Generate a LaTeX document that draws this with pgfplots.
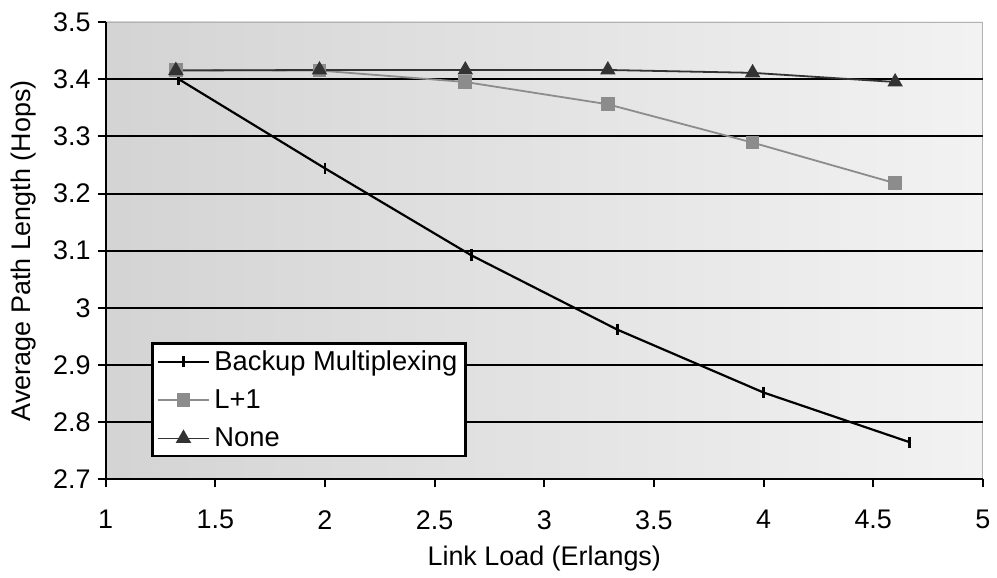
\documentclass[border=0pt]{standalone}
\usepackage{fontspec}
\setmainfont{Liberation Sans}
\usepackage{pgfplots}
\pgfplotsset{compat=1.18}

\definecolor{lplusone}{HTML}{8C8C8C}
\definecolor{nonecol}{HTML}{333333}

\pgfplotstableread{
x      y
1.333  3.400
2.000  3.244
2.667  3.092
3.333  2.962
4.000  2.852
4.667  2.765
}\backupdata

\pgfplotstableread{
x      y
1.320  3.416
1.975  3.415
2.640  3.395
3.290  3.356
3.950  3.289
4.600  3.218
}\lplusdata

\pgfplotstableread{
x      y
1.320  3.415
1.975  3.416
2.640  3.416
3.290  3.416
3.950  3.411
4.600  3.395
}\nonedata

\begin{document}
\begin{tikzpicture}
\begin{axis}[
  scale only axis,
  width=440pt, height=229.5pt,
  xmin=1, xmax=5, ymin=2.7, ymax=3.5,
  xtick={1,1.5,...,5},
  ytick={2.7,2.8,...,3.5},
  extra y ticks={2.8,2.9,3.0,3.1,3.2,3.3,3.4},
  extra y tick labels={},
  extra y tick style={grid=major, major tick length=0pt},
  grid style={black, line width=1pt},
  axis x line*=bottom, axis y line*=left,
  axis line style={black, line width=1pt, -},
  axis background/.style={left color=black!17, right color=black!5, draw=black!30},
  tick align=outside,
  major tick length=4pt,
  tick style={black, line width=1pt},
  /pgf/number format/assume math mode=true,
  ticklabel style={font=\fontsize{13.5}{16}\selectfont},
  xticklabel style={yshift=-8pt},
  xlabel={Link Load (Erlangs)},
  ylabel={Average Path Length (Hops)},
  every axis x label/.style={at={(axis description cs:0.5,-0.172)}, anchor=center,
    font=\fontsize{13.5}{16}\selectfont},
  every axis y label/.style={at={(axis description cs:-0.094,0.5)}, anchor=center, rotate=90,
    font=\fontsize{13.5}{16}\selectfont},
  legend cell align=left,
  legend style={at={(rel axis cs:0.052,0.048)}, anchor=south west,
    draw=black, line width=1.2pt, fill=white,
    font=\fontsize{13.7}{16}\selectfont,
    row sep=4.2pt, inner xsep=2pt, inner ysep=1.5pt,
    nodes={inner sep=2pt}},
  legend image code/.code={
    \draw[mark repeat=2, mark phase=2, #1]
      plot coordinates {(2pt,0pt) (15pt,0pt) (28pt,0pt)};},
]
\addplot[black, line width=1.1pt, mark=|, mark size=2.9pt,
  mark options={line width=1.4pt}] table[x=x, y=y] {\backupdata};
\addlegendentry{Backup Multiplexing}

\addplot[lplusone, line width=0.9pt, mark=square*, mark size=3pt,
  mark options={fill=lplusone, draw=lplusone}] table[x=x, y=y] {\lplusdata};
\addlegendentry{L+1}

\addplot[nonecol, line width=0.9pt, mark=triangle*, mark size=3.6pt,
  mark options={fill=nonecol, draw=nonecol}] table[x=x, y=y] {\nonedata};
\addlegendentry{None}
\end{axis}
\path ([xshift=-53pt, yshift=-45pt]current axis.south west)
  rectangle ([xshift=5.5pt, yshift=11pt]current axis.north east);
\end{tikzpicture}
\end{document}
